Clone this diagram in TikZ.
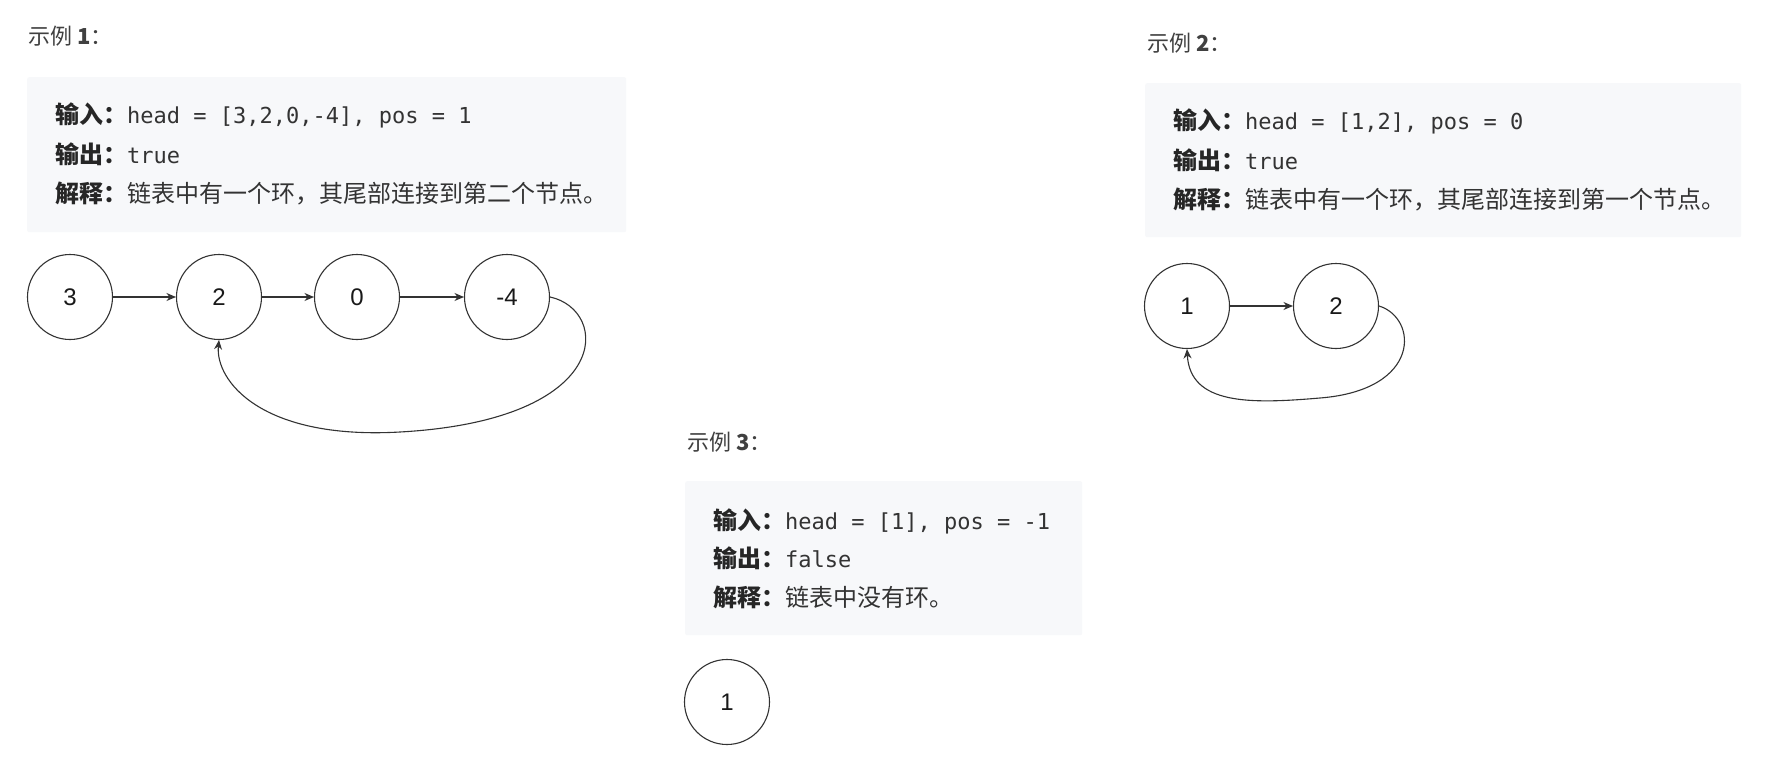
\documentclass[tikz,border=0pt]{standalone}
\usepackage{fontspec}
\setmainfont{Liberation Sans}
\newfontfamily\cjk{Noto Sans CJK SC}
\newfontfamily\monof{DejaVu Sans Mono}
\usetikzlibrary{arrows.meta}
\definecolor{boxbg}{HTML}{F7F8FA}
\definecolor{txt}{HTML}{333333}
\definecolor{lbl}{HTML}{262626}
\definecolor{ttl}{HTML}{404040}
\definecolor{edge}{HTML}{333333}
\tikzset{
  exbox/.style={fill=boxbg, draw=none, rounded corners=2pt, inner sep=0pt},
  ttlnode/.style={anchor=base west, inner sep=0pt, text=ttl, font=\cjk\fontsize{22}{26}\selectfont},
  textline/.style={anchor=base west, inner sep=0pt, text=txt, font=\fontsize{24}{28}\selectfont},
  lnode/.style={circle, draw=edge, line width=1.1pt, minimum size=85pt, inner sep=0pt, font=\fontsize{24}{28}\selectfont, text=black!90},
  link/.style={draw=edge, line width=1.1pt, -{Stealth[length=9.5pt,width=8pt]}},
}
\newcommand{\lab}[1]{{\cjk\bfseries\color{lbl}#1}}
\newcommand{\cod}[1]{{\monof\fontsize{22}{26}\selectfont #1}}
\newcommand{\zh}[1]{{\cjk #1}}
\begin{document}
\begin{tikzpicture}[x=1pt,y=-1pt]
\fill[white] (0,0) rectangle (1790,765);
\useasboundingbox (0,0) rectangle (1790,765);

% ---------- Example 1 ----------
\node[ttlnode] (t1) at (28,45) {示例 {\bfseries 1}：};
\node[exbox, minimum width=599pt, minimum height=155pt, anchor=north west] (box1) at (27,77) {};
\node[textline] (e1a) at (55,124) {\lab{输入：}\cod{head = [3,2,0,-4], pos = 1}};
\node[textline] (e1b) at (55,163) {\lab{输出：}\cod{true}};
\node[textline] (e1c) at (55,202) {\lab{解释：}\zh{链表中有一个环，其尾部连接到第二个节点。}};

\node[lnode] (a3) at (70,297) {3};
\node[lnode] (a2) at (219,297) {2};
\node[lnode] (a0) at (357,297) {0};
\node[lnode] (a4) at (507,297) {-4};
\draw[link] (a3) -- (a2);
\draw[link] (a2) -- (a0);
\draw[link] (a0) -- (a4);
\draw[link] (a4.east) .. controls (610,310) and (615,420) .. (400,432)
                      .. controls (260,440) and (215,380) .. (a2.south);

% ---------- Example 2 ----------
\node[ttlnode] (t2) at (1147,52) {示例 {\bfseries 2}：};
\node[exbox, minimum width=596pt, minimum height=154pt, anchor=north west] (box2) at (1145,83) {};
\node[textline] (e2a) at (1173,130) {\lab{输入：}\cod{head = [1,2], pos = 0}};
\node[textline] (e2b) at (1173,169) {\lab{输出：}\cod{true}};
\node[textline] (e2c) at (1173,208) {\lab{解释：}\zh{链表中有一个环，其尾部连接到第一个节点。}};

\node[lnode] (b1) at (1187,306) {1};
\node[lnode] (b2) at (1336,306) {2};
\draw[link] (b1) -- (b2);
\draw[link] (b2.east) .. controls (1418,318) and (1422,390) .. (1320,398)
                      .. controls (1250,404) and (1190,405) .. (b1.south);

% ---------- Example 3 ----------
\node[ttlnode] (t3) at (687,450) {示例 {\bfseries 3}：};
\node[exbox, minimum width=397pt, minimum height=154pt, anchor=north west] (box3) at (685,481) {};
\node[textline] (e3a) at (713,529) {\lab{输入：}\cod{head = [1], pos = -1}};
\node[textline] (e3b) at (713,567) {\lab{输出：}\cod{false}};
\node[textline] (e3c) at (713,606) {\lab{解释：}\zh{链表中没有环。}};

\node[lnode] (c1) at (727,702) {1};
\end{tikzpicture}
\end{document}
